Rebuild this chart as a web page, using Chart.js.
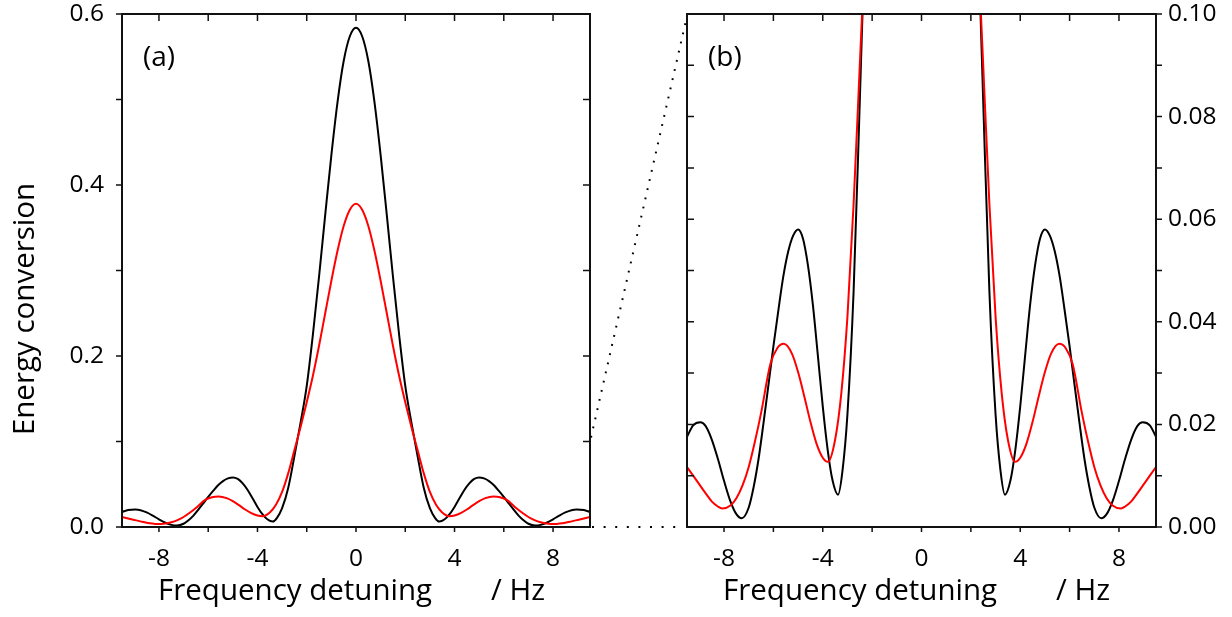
<!DOCTYPE html>
<html><head><meta charset="utf-8">
<script src="https://cdn.jsdelivr.net/npm/chart.js@4/dist/chart.umd.min.js"></script>
<style>
html,body{margin:0;padding:0;background:#fff;}
#wrap{position:relative;width:1232px;height:617px;overflow:hidden;background:#fff;}
#c1{position:absolute;left:0;top:0;}
#c2{position:absolute;left:590px;top:0;}
</style></head><body>
<div id="wrap"><canvas id="c1" width="620" height="617"></canvas><canvas id="c2" width="642" height="617"></canvas></div>
<script>
// ---- data ----
const xTickLabels = [-8, -4, 0, 4, 8];
const xMinorTicks = [-8, -6, -4, -2, 0, 2, 4, 6, 8];
const yTicksA = [0, 0.2, 0.4, 0.6];
const yMinorA = [0, 0.1, 0.2, 0.3, 0.4, 0.5, 0.6];
const yTicksB = [0, 0.02, 0.04, 0.06, 0.08, 0.10];
const yMinorB = [0, 0.01, 0.02, 0.03, 0.04, 0.05, 0.06, 0.07, 0.08, 0.09, 0.10];

const blackX = [-9.5, -9.25, -8.96, -8.75, -8.5, -8.25, -8.0, -7.74, -7.5, -7.28, -7.0, -6.8, -6.6, -6.4, -6.2, -6.0, -5.8, -5.6, -5.4, -5.2, -5.0, -4.8, -4.6, -4.4, -4.2, -4.0, -3.8, -3.6, -3.38, -3.2, -3.0, -2.75, -2.5, -2.25, -2.0, -1.75, -1.5, -1.25, -1.0, -0.75, -0.5, -0.25,
  0, 0.25, 0.5, 0.75, 1.0, 1.25, 1.5, 1.75, 2.0, 2.25, 2.5, 2.75, 3.0, 3.2, 3.38, 3.6, 3.8, 4.0, 4.2, 4.4, 4.6, 4.8, 5.0, 5.2, 5.4, 5.6, 5.8, 6.0, 6.2, 6.4, 6.6, 6.8, 7.0, 7.28, 7.5, 7.74, 8.0, 8.25, 8.5, 8.75, 8.96, 9.25, 9.5];
const blackY = [0.0176, 0.0198, 0.0204, 0.0197, 0.0171, 0.0133, 0.009, 0.005, 0.0025, 0.0017, 0.0038, 0.0078, 0.0133, 0.0203, 0.0277, 0.0352, 0.0422, 0.0488, 0.0537, 0.0568, 0.058, 0.0562, 0.051, 0.0433, 0.0335, 0.0235, 0.015, 0.009, 0.0063, 0.011, 0.022, 0.046, 0.083, 0.122, 0.165, 0.225, 0.293, 0.365, 0.435, 0.497, 0.545, 0.574,
  0.584, 0.574, 0.545, 0.497, 0.435, 0.365, 0.293, 0.225, 0.165, 0.122, 0.083, 0.046, 0.022, 0.011, 0.0063, 0.009, 0.015, 0.0235, 0.0335, 0.0433, 0.051, 0.0562, 0.058, 0.0568, 0.0537, 0.0488, 0.0422, 0.0352, 0.0277, 0.0203, 0.0133, 0.0078, 0.0038, 0.0017, 0.0025, 0.005, 0.009, 0.0133, 0.0171, 0.0197, 0.0204, 0.0198, 0.0176];

const redX = [-9.5, -9.25, -9.0, -8.75, -8.5, -8.25, -8.08, -7.74, -7.5, -7.25, -7.0, -6.75, -6.5, -6.12, -5.85, -5.58, -5.25, -5.0, -4.75, -4.5, -4.25, -4.0, -3.79, -3.5, -3.25, -3.0, -2.75, -2.5, -2.25, -2.0, -1.75, -1.5, -1.25, -1.0, -0.75, -0.5, -0.25,
  0, 0.25, 0.5, 0.75, 1.0, 1.25, 1.5, 1.75, 2.0, 2.25, 2.5, 2.75, 3.0, 3.25, 3.5, 3.79, 4.0, 4.25, 4.5, 4.75, 5.0, 5.25, 5.58, 5.85, 6.12, 6.5, 6.75, 7.0, 7.25, 7.5, 7.74, 8.08, 8.25, 8.5, 8.75, 9.0, 9.25, 9.5];
const redY = [0.0117, 0.0100, 0.0083, 0.0066, 0.0050, 0.0040, 0.0036, 0.0042, 0.0056, 0.0081, 0.0117, 0.0166, 0.0222, 0.0318, 0.0348, 0.0357, 0.0338, 0.0302, 0.0255, 0.0205, 0.0162, 0.0135, 0.0127, 0.017, 0.026, 0.041, 0.063, 0.09, 0.117, 0.146, 0.177, 0.212, 0.25, 0.288, 0.323, 0.352, 0.371,
  0.378, 0.371, 0.352, 0.323, 0.288, 0.25, 0.212, 0.177, 0.146, 0.117, 0.09, 0.063, 0.041, 0.026, 0.017, 0.0127, 0.0135, 0.0162, 0.0205, 0.0255, 0.0302, 0.0338, 0.0357, 0.0348, 0.0318, 0.0222, 0.0166, 0.0117, 0.0081, 0.0056, 0.0042, 0.0036, 0.0040, 0.0050, 0.0066, 0.0083, 0.0100, 0.0117];

const xTitle = 'Frequency detuning';
const xUnit = '/ Hz';
const yTitle = 'Energy conversion';

// ---- helpers ----
const FONT = "'Open Sans', 'Noto Sans', sans-serif";
const pts = (xs, ys) => xs.map((x, i) => ({x: x, y: ys[i]}));

function datasets() {
  return [
    {data: pts(redX, redY), borderColor: '#ff0000', borderWidth: 2, pointRadius: 0, cubicInterpolationMode: 'monotone', clip: 0, fill: false},
    {data: pts(blackX, blackY), borderColor: '#000000', borderWidth: 2, pointRadius: 0, cubicInterpolationMode: 'monotone', clip: 0, fill: false}
  ];
}

function framePlugin(side, yMinor, label) {
  return {
    id: 'frame' + side,
    afterDatasetsDraw(chart) {
      const {ctx, chartArea: a, scales} = chart;
      const x = scales.x, y = scales.y;
      ctx.save();
      ctx.strokeStyle = '#111';
      ctx.lineWidth = 1.5;
      ctx.beginPath();
      xMinorTicks.forEach(v => {
        const px = x.getPixelForValue(v);
        ctx.moveTo(px, a.bottom); ctx.lineTo(px, a.bottom + 5);
        ctx.moveTo(px, a.top); ctx.lineTo(px, a.top + 7);
      });
      yMinor.forEach(v => {
        const py = y.getPixelForValue(v);
        if (side === 'left') {
          ctx.moveTo(a.left, py); ctx.lineTo(a.left - 6, py);
          ctx.moveTo(a.right, py); ctx.lineTo(a.right - 7, py);
        } else {
          ctx.moveTo(a.right, py); ctx.lineTo(a.right + 6, py);
          ctx.moveTo(a.left, py); ctx.lineTo(a.left + 7, py);
        }
      });
      ctx.stroke();
      ctx.lineWidth = 2;
      ctx.strokeRect(a.left, a.top, a.right - a.left, a.bottom - a.top);
      // texts
      ctx.fillStyle = '#000';
      ctx.font = '28px ' + FONT;
      ctx.textAlign = 'left';
      ctx.textBaseline = 'middle';
      ctx.fillText(label, a.left + 21, 58);
      ctx.font = '29.5px ' + FONT;
      ctx.textBaseline = 'alphabetic';
      ctx.fillText(xTitle, a.left + 36, 600);
      ctx.fillText(xUnit, a.left + 369, 600);
      if (side === 'left') {
        ctx.save();
        ctx.translate(34, 309);
        ctx.rotate(-Math.PI / 2);
        ctx.textAlign = 'center';
        ctx.fillText(yTitle, 0, 0);
        ctx.restore();
      }
      ctx.restore();
    }
  };
}

function baseOptions(side, yMax, yTickVals, yDigits) {
  return {
    responsive: false,
    animation: false,
    events: [],
    layout: {padding: side === 'left' ? {left: 0, right: 30, top: 14, bottom: 0} : {left: 97, right: 0, top: 14, bottom: 0}},
    plugins: {legend: {display: false}, tooltip: {enabled: false}},
    scales: {
      x: {
        type: 'linear', position: 'bottom', min: -9.5, max: 9.5,
        afterBuildTicks: s => { s.ticks = xTickLabels.map(v => ({value: v})); },
        afterFit: s => { s.height = 90; s.paddingLeft = 0; s.paddingRight = 0; },
        grid: {display: false, drawTicks: false},
        border: {display: false},
        ticks: {padding: 17, color: '#000', font: {family: FONT, size: 24.5}, maxRotation: 0, autoSkip: false, callback: v => String(v)}
      },
      y: {
        type: 'linear', position: side, min: 0, max: yMax,
        afterBuildTicks: s => { s.ticks = yTickVals.map(v => ({value: v})); },
        afterFit: s => { s.width = side === 'left' ? 122 : 76; s.paddingTop = 0; s.paddingBottom = 0; },
        grid: {display: false, drawTicks: false},
        border: {display: false},
        ticks: {padding: side === 'left' ? 18 : 12, color: '#000', font: {family: FONT, size: 24.5}, autoSkip: false, callback: v => Number(v).toFixed(yDigits)}
      }
    }
  };
}

const chart1 = new Chart(document.getElementById('c1'), {
  type: 'line',
  data: {datasets: datasets()},
  options: baseOptions('left', 0.6, yTicksA, 1),
  plugins: [framePlugin('left', yMinorA, '(a)')]
});

const dotPlugin = {
  id: 'zoomLines',
  afterDraw(chart) {
    const {ctx, chartArea: a} = chart;
    const offset = 590;
    const x0 = chart1.chartArea.right - offset;
    const yTopLeft = chart1.scales.y.getPixelForValue(yTicksB[yTicksB.length - 1]);
    const yZero = chart1.scales.y.getPixelForValue(0);
    ctx.save();
    ctx.strokeStyle = '#000';
    ctx.lineWidth = 2;
    ctx.setLineDash([2, 9.6]);
    ctx.beginPath();
    ctx.moveTo(x0 + 2, yZero); ctx.lineTo(a.left - 4, yZero);
    ctx.stroke();
    ctx.setLineDash([1.8, 7.6]);
    ctx.beginPath();
    ctx.moveTo(x0 + 1, yTopLeft - 4); ctx.lineTo(a.left, a.top + 2);
    ctx.stroke();
    ctx.restore();
  }
};

const chart2 = new Chart(document.getElementById('c2'), {
  type: 'line',
  data: {datasets: datasets()},
  options: baseOptions('right', 0.1, yTicksB, 2),
  plugins: [framePlugin('right', yMinorB, '(b)'), dotPlugin]
});
</script>
</body></html>
